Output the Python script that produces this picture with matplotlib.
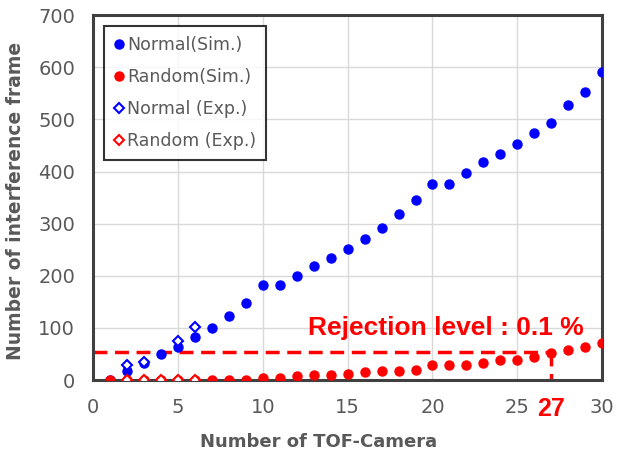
import numpy as np
import matplotlib.pyplot as plt

# --- data ---
cam_sim = np.arange(1, 31)
normal_sim = [0, 17, 33, 50, 64, 83, 100, 123, 148, 182, 182, 199, 219, 234, 252,
              271, 291, 319, 345, 377, 377, 398, 418, 433, 452, 473, 493, 527, 553, 590]
random_sim = [0, 0, 0, 0, 0, 0, 0, 1, 1, 3, 3, 8, 10, 10, 11,
              15, 17, 17, 19, 28, 28, 29, 32, 38, 38, 45, 52, 58, 64, 72]

cam_normal_exp = [2, 3, 5, 6]
normal_exp = [29, 35, 75, 101]
cam_random_exp = [2, 3, 4, 5, 6]
random_exp = [0, 0, 0, 0, 0]

rejection_level = 53
rejection_cam = 27

RED = '#ff0000'
BLUE = '#0000ff'
GRAY = '#595959'

fig = plt.figure(figsize=(6.42, 4.59), dpi=100)
ax = fig.add_axes([0.145, 0.172, 0.793, 0.795])

ax.plot(cam_sim, normal_sim, 'o', color=BLUE, ms=6.5, ls='none', label='Normal(Sim.)', zorder=3)
ax.plot(cam_sim, random_sim, 'o', color=RED, ms=6.5, ls='none', label='Random(Sim.)', zorder=3)
ax.plot(cam_normal_exp, normal_exp, 'D', mfc='white', mec=BLUE, mew=1.5, ms=5.5,
        ls='none', label='Normal (Exp.)', zorder=4)
ax.plot(cam_random_exp, random_exp, 'D', mfc='white', mec=RED, mew=1.5, ms=5.5,
        ls='none', label='Random (Exp.)', zorder=4)

# rejection level line
ax.plot([0, rejection_cam], [rejection_level, rejection_level], color=RED, lw=2.5,
        dashes=(4, 2.2), zorder=2)
ax.plot([rejection_cam, rejection_cam], [rejection_level, 0], color=RED, lw=2.5,
        dashes=(4, 2.2), dash_capstyle='butt', zorder=2)
ax.text(20.8, 100, 'Rejection level : 0.1 %', color=RED, fontsize=19, fontweight='bold',
        family='Liberation Sans', ha='center', va='center')
ax.annotate(str(rejection_cam), xy=(rejection_cam, 0), xycoords=('data', 'axes fraction'),
            xytext=(0, -21), textcoords='offset points', ha='center', va='center',
            color=RED, fontsize=18, fontweight='bold', family='Liberation Sans')

ax.set_xlim(0, 30)
ax.set_ylim(0, 700)
ax.set_xticks([0, 5, 10, 15, 20, 25, 30])
ax.set_yticks(np.arange(0, 701, 100))
ax.tick_params(length=0, labelsize=14, labelcolor=GRAY)
ax.tick_params(axis='x', pad=13)
ax.tick_params(axis='y', pad=13)
ax.grid(True, color='#d9d9d9', lw=1)
ax.set_axisbelow(True)
for s in ax.spines.values():
    s.set_color('#404040')
    s.set_linewidth(2.2)

ax.set_xlabel('Number of TOF-Camera', fontsize=13, fontweight='bold', color=GRAY)
ax.xaxis.set_label_coords(0.442, -0.145)
ax.set_ylabel('Number of interference frame', fontsize=13.5, fontweight='bold', color=GRAY)
ax.yaxis.set_label_coords(-0.133, 0.49)

leg = ax.legend(loc='upper left', fontsize=12.5, frameon=True, fancybox=False,
                edgecolor='black', handlelength=0.6, handletextpad=0.15,
                borderaxespad=0.6, labelspacing=0.8, borderpad=0.6)
leg.get_frame().set_linewidth(1.5)
for t in leg.get_texts():
    t.set_color(GRAY)

fig.savefig('out.png', dpi=100)
